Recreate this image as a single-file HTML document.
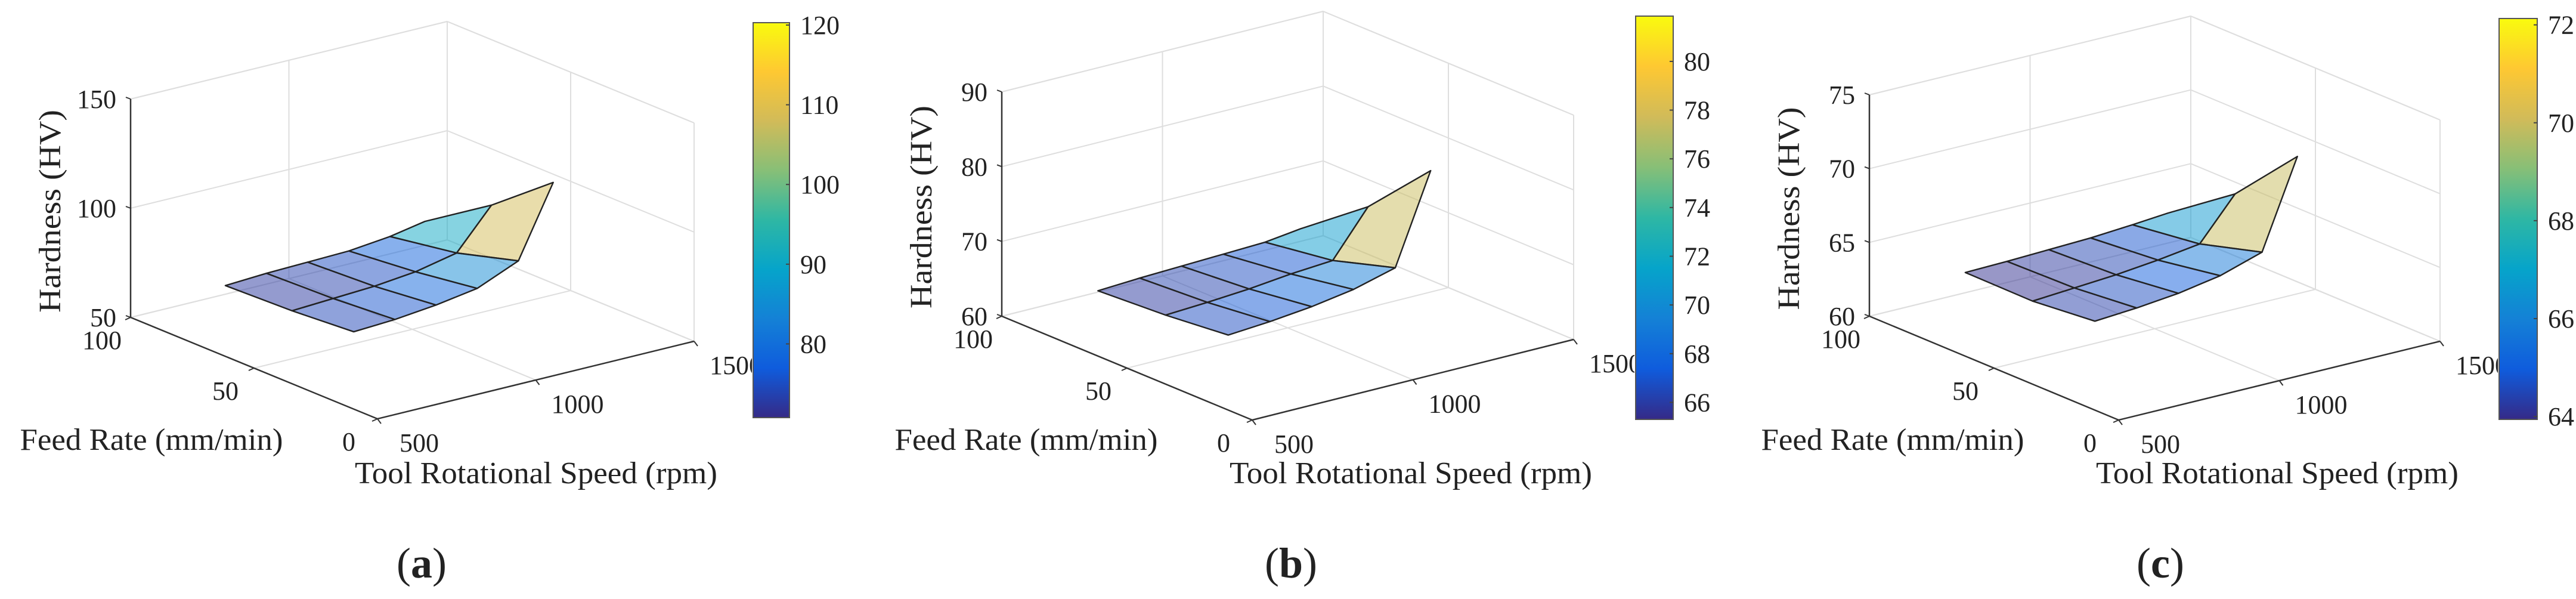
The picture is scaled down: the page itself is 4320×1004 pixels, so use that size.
<!DOCTYPE html>
<html><head><meta charset="utf-8"><style>
html,body{margin:0;padding:0;background:#fff;}
svg{display:block;}
text{font-family:"Liberation Serif",serif;fill:#222;}
</style></head><body>
<svg id="fig" width="4320" height="1004" viewBox="0 0 4320 1004" xmlns="http://www.w3.org/2000/svg">
<defs>
<linearGradient id="parula" x1="0" y1="1" x2="0" y2="0">
<stop offset="0" stop-color="#352a87"/><stop offset="0.125" stop-color="#0f5cdd"/>
<stop offset="0.25" stop-color="#1481d6"/><stop offset="0.375" stop-color="#06a4ca"/>
<stop offset="0.5" stop-color="#2eb7a4"/><stop offset="0.625" stop-color="#87bf77"/>
<stop offset="0.75" stop-color="#d1bb59"/><stop offset="0.875" stop-color="#fec832"/>
<stop offset="1" stop-color="#f9fb0e"/>
</linearGradient>
</defs>
</svg>
<script>
// ---- data ----
const speeds = [620, 750, 880, 1010, 1140, 1250];
const feeds = [25, 50, 77];
const hardnessA = [
  [74, 75, 77, 80, 88, 120],
  [72, 73, 74, 76, 80, 98],
  [71, 72, 72.5, 73, 75, 78]
];
const hardnessB = [
  [66.6, 67.0, 67.6, 68.5, 70.0, 81.8],
  [65.8, 66.1, 66.5, 67.1, 67.5, 73.5],
  [65.3, 65.6, 65.8, 66.0, 66.2, 66.8]
];
const hardnessC = [
  [64.3, 64.5, 64.8, 65.3, 66.2, 72.1],
  [63.9, 64.1, 64.3, 64.6, 65.0, 67.8],
  [63.94, 64.0, 64.1, 64.2, 64.4, 64.6]
];
const speedTicks = [500, 1000, 1500];
const feedTicks = [0, 50, 100];
const zTicksA = [50, 100, 150];
const zTicksB = [60, 70, 80, 90];
const zTicksC = [60, 65, 70, 75];
const cTicksA = [80, 90, 100, 110, 120];
const cTicksB = [66, 68, 70, 72, 74, 76, 78, 80];
const cTicksC = [64, 66, 68, 70, 72];
const panelLetters = ['a', 'b', 'c'];

const NS = 'http://www.w3.org/2000/svg';
const svg = document.getElementById('fig');
const parulaStops = [[53,42,135],[15,92,221],[20,129,214],[6,164,202],[46,183,164],[135,191,119],[209,187,89],[254,200,50],[249,251,14]];
function parula(t){
  t = Math.max(0, Math.min(1, t));
  const p = t*(parulaStops.length-1), i = Math.min(Math.floor(p), parulaStops.length-2), r = p-i;
  const a = parulaStops[i], b = parulaStops[i+1];
  return 'rgb(' + [0,1,2].map(k => Math.round(a[k]+(b[k]-a[k])*r)).join(',') + ')';
}
function mk(tag, attrs, parent){
  const e = document.createElementNS(NS, tag);
  for (const k in attrs) e.setAttribute(k, attrs[k]);
  (parent || svg).appendChild(e);
  return e;
}

const panels = [
  {front:[633,702], X:[531,-130], Y:[-414,-170], zH:366, zmin:50, zmax:150, zTicks:zTicksA, data:hardnessA,
   cmin:70.75, cmax:120.3, cTicks:cTicksA, cb:[1263,38,61,662], label:707},
  {front:[2100,704], X:[539,-135], Y:[-420,-174], zH:376, zmin:60, zmax:90, zTicks:zTicksB, data:hardnessB,
   cmin:65.3, cmax:81.86, cTicks:cTicksB, cb:[2743,27,63,676], label:2165},
  {front:[3553,704], X:[539,-132], Y:[-418,-174], zH:371, zmin:60, zmax:75, zTicks:zTicksC, data:hardnessC,
   cmin:63.94, cmax:72.13, cTicks:cTicksC, cb:[4191,31,64,672], label:3623}
];

panels.forEach((P, pi) => {
  const g = mk('g', {});
  
  
  const sN = v => (v - 500) / 1000;
  const fN = v => v / 100;
  const zN = v => (v - P.zmin) / (P.zmax - P.zmin);
  const proj = (s, f, z) => [P.front[0] + s*P.X[0] + f*P.Y[0], P.front[1] + s*P.X[1] + f*P.Y[1] - z*P.zH];
  const line = (a, b, col, w, name) => {
    const l = mk('line', {x1:a[0], y1:a[1], x2:b[0], y2:b[1], stroke:col, 'stroke-width':w}, g);
    
    
  };
  const GC = '#dedede';
  line(proj(0,1,1), proj(1,1,1), GC, 2, 'box-edge');
  line(proj(1,1,1), proj(1,0,1), GC, 2, 'box-edge');
  line(proj(1,1,0), proj(1,1,1), GC, 2, 'box-edge');
  line(proj(1,0,0), proj(1,0,1), GC, 2, 'box-edge');
  line(proj(0,1,0), proj(1,1,0), GC, 2, 'box-edge');
  line(proj(1,1,0), proj(1,0,0), GC, 2, 'box-edge');
  speedTicks.forEach(v => { const s = sN(v);
    line(proj(s,0,0), proj(s,1,0), GC, 2, 'grid-line');
    line(proj(s,1,0), proj(s,1,1), GC, 2, 'grid-line'); });
  feedTicks.forEach(v => { const f = fN(v);
    line(proj(0,f,0), proj(1,f,0), GC, 2, 'grid-line');
    line(proj(1,f,0), proj(1,f,1), GC, 2, 'grid-line'); });
  P.zTicks.forEach(v => { const z = zN(v);
    line(proj(0,1,z), proj(1,1,z), GC, 2, 'grid-line');
    line(proj(1,1,z), proj(1,0,z), GC, 2, 'grid-line'); });
  const AC = '#333';
  line(proj(0,1,0), proj(0,1,1), AC, 2.5, 'z-axis');
  line(proj(0,1,0), proj(0,0,0), AC, 2.5, 'feed-axis');
  line(proj(0,0,0), proj(1,0,0), AC, 2.5, 'speed-axis');
  P.zTicks.forEach(v => {
    const p = proj(0,1,zN(v));
    line(p, [p[0]-8, p[1]-3], AC, 2, 'z-tick');
    const t = mk('text', {x:p[0]-24, y:p[1]+15, 'font-size':44, 'text-anchor':'end'}, g);
    
    
    t.textContent = v;
  });
  feedTicks.forEach(v => {
    const p = proj(0,fN(v),0);
    line(p, [p[0]-9, p[1]+4], AC, 2, 'feed-tick');
    const t = mk('text', {x:p[0]-48, y:p[1]+53, 'font-size':44, 'text-anchor':'middle'}, g);
    
    
    t.textContent = v;
  });
  speedTicks.forEach(v => {
    const p = proj(sN(v),0,0);
    line(p, [p[0]+6, p[1]+8], AC, 2, 'speed-tick');
    const t = mk('text', {x:p[0]+70, y:p[1]+55, 'font-size':44, 'text-anchor':'middle'}, g);
    
    
    t.textContent = v;
  });
  const cells = [];
  for (let i = 0; i < feeds.length-1; i++) for (let j = 0; j < speeds.length-1; j++) {
    cells.push({i, j, depth: sN(speeds[j]) + sN(speeds[j+1]) + fN(feeds[i]) + fN(feeds[i+1])});
  }
  cells.sort((a, b) => b.depth - a.depth);
  cells.forEach(c => {
    const vals = [P.data[c.i][c.j], P.data[c.i][c.j+1], P.data[c.i+1][c.j+1], P.data[c.i+1][c.j]];
    const pts = [[c.i,c.j],[c.i,c.j+1],[c.i+1,c.j+1],[c.i+1,c.j]].map(([a,b]) => proj(sN(speeds[b]), fN(feeds[a]), zN(P.data[a][b])));
    const avg = vals.reduce((s, v) => s + v, 0) / 4;
    const cv = (avg + Math.max(...vals)) / 2;
    const poly = mk('polygon', {points: pts.map(p => p.join(',')).join(' '), fill: parula((cv-P.cmin)/(P.cmax-P.cmin)), 'fill-opacity':0.5, stroke:'#222', 'stroke-width':2.4, 'stroke-linejoin':'round'}, g);
    
    
  });
  const zl = proj(0,1,0.5);
  const zt = mk('text', {x:0, y:0, 'font-size':52, 'text-anchor':'middle', textLength:340, lengthAdjust:'spacingAndGlyphs', transform:'translate(' + (zl[0]-118) + ',' + (zl[1]+5) + ') rotate(-90)'}, g);
  
  
  zt.textContent = 'Hardness (HV)';
  const fl = mk('text', {x:P.front[0]-379, y:754, 'font-size':52, 'text-anchor':'middle', textLength:441, lengthAdjust:'spacingAndGlyphs'}, g);
  
  
  fl.textContent = 'Feed Rate (mm/min)';
  const sl = mk('text', {x:P.front[0]+266, y:810, 'font-size':52, 'text-anchor':'middle', textLength:608, lengthAdjust:'spacingAndGlyphs'}, g);
  
  
  sl.textContent = 'Tool Rotational Speed (rpm)';
  const [cx, cy, cw, ch] = P.cb;
  const bg = mk('rect', {x:cx-2, y:cy-6, width:cw+4, height:ch+12, fill:'#fff'}, g);
  
  
  const bar = mk('rect', {x:cx, y:cy, width:cw, height:ch, fill:'url(#parula)', stroke:'#555', 'stroke-width':2}, g);
  
  
  P.cTicks.forEach(v => {
    const y = cy + ch - (v - P.cmin) / (P.cmax - P.cmin) * ch;
    line([cx+cw-6, y], [cx+cw, y], '#444', 2, 'colorbar-tick');
    const t = mk('text', {x:cx+cw+18, y:y+15, 'font-size':44}, g);
    
    
    t.textContent = v;
  });
  const pl = mk('text', {x:P.label, y:968, 'font-size':72, 'text-anchor':'middle'}, g);
  
  
  pl.innerHTML = '(<tspan font-weight="bold">' + panelLetters[pi] + '</tspan>)';
});
</script>
</body></html>
